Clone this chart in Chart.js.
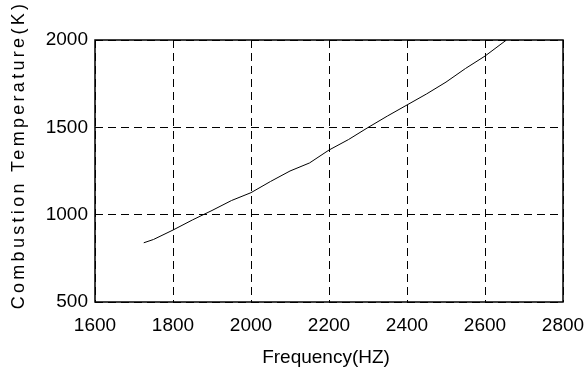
<!DOCTYPE html>
<html>
<head>
<meta charset="utf-8">
<script src="https://cdn.jsdelivr.net/npm/chart.js@4"></script>
<style>
  html, body { margin: 0; padding: 0; background: #fff; }
  canvas { display: block; }
</style>
</head>
<body>
<canvas id="chart" width="586" height="372"></canvas>
<script>
// frequency (Hz) vs combustion temperature (K)
const frequency = [1725, 1750, 1800, 1850, 1900, 1950, 2000, 2050, 2100, 2150, 2200,
                   2250, 2300, 2350, 2400, 2450, 2500, 2550, 2600, 2655];
const temperature = [839, 858, 912, 970, 1024, 1081, 1126, 1190, 1250, 1296, 1370,
                     1430, 1499, 1565, 1628, 1691, 1759, 1837, 1908, 2000];

const xTicks = [1600, 1800, 2000, 2200, 2400, 2600, 2800];
const yTicks = [500, 1000, 1500, 2000];

const xTitle = 'Frequency(HZ)';
const yTitle = 'Combustion Temperature(K)';

const tickFont = { family: '"Liberation Sans", Arial, sans-serif', size: 19 };

// box around the plot + axis titles
const frame = {
    id: 'frame',
    afterDraw(chart) {
        const { ctx, chartArea: a } = chart;
        ctx.save();
        ctx.strokeStyle = '#000';
        ctx.lineWidth = 1.5;
        ctx.strokeRect(a.left, a.top, a.right - a.left, a.bottom - a.top);

        ctx.fillStyle = '#000';
        ctx.textAlign = 'center';
        ctx.textBaseline = 'middle';
        ctx.font = '19px "Liberation Sans", Arial, sans-serif';
        ctx.fillText(xTitle, 326, 358);

        ctx.translate(19, 155);
        ctx.rotate(-Math.PI / 2);
        ctx.font = '18px "Liberation Sans", Arial, sans-serif';
        ctx.letterSpacing = '3.3px';
        ctx.fillText(yTitle, 0, 0);
        ctx.restore();
    }
};

const ctx = document.getElementById('chart').getContext('2d');
new Chart(ctx, {
    type: 'line',
    data: {
        datasets: [{
            data: frequency.map((f, i) => ({ x: f, y: temperature[i] })),
            borderColor: '#000',
            borderWidth: 1,
            pointRadius: 0,
            fill: false,
            tension: 0,
        }],
    },
    options: {
        responsive: false,
        animation: false,
        layout: { padding: { left: 0, top: 40, right: 0, bottom: 0 } },
        plugins: {
            legend: { display: false },
            tooltip: { enabled: false },
        },
        scales: {
            x: {
                type: 'linear',
                min: 1600,
                max: 2800,
                afterBuildTicks: s => { s.ticks = xTicks.map(v => ({ value: v })); },
                afterFit: s => {
                    s.height = 70;
                    s.paddingLeft = 0;
                    s.paddingRight = 23;
                },
                border: { display: false, dash: [8, 5] },
                grid: {
                    color: '#000',
                    lineWidth: 1,
                    drawTicks: false,
                },
                ticks: {
                    color: '#000',
                    font: tickFont,
                    padding: 12,
                    maxRotation: 0,
                    callback: v => String(v),
                },
            },
            y: {
                type: 'linear',
                min: 500,
                max: 2000,
                afterBuildTicks: s => { s.ticks = yTicks.map(v => ({ value: v })); },
                afterFit: s => {
                    s.width = 95;
                    s.paddingTop = 0;
                    s.paddingBottom = 0;
                },
                border: { display: false, dash: [8, 5] },
                grid: {
                    color: '#000',
                    lineWidth: 1,
                    drawTicks: false,
                },
                ticks: {
                    color: '#000',
                    font: tickFont,
                    padding: 7,
                    callback: v => String(v),
                },
            },
        },
    },
    plugins: [frame],
});
</script>
</body>
</html>
